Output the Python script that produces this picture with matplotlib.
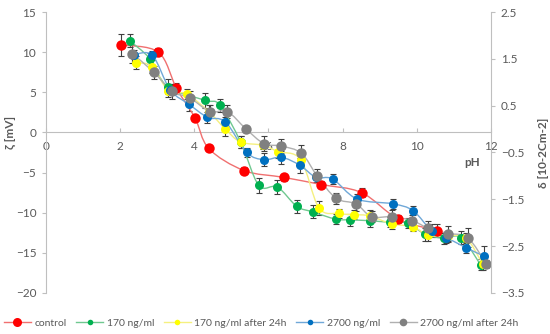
import numpy as np
import matplotlib
matplotlib.use("Agg")
import matplotlib.pyplot as plt
from matplotlib.path import Path
from matplotlib.patches import PathPatch
from matplotlib.lines import Line2D

plt.rcParams['font.family'] = ['Lato', 'DejaVu Sans']

# --- data ---
ph_control = [2.01, 3.03, 3.52, 4.02, 4.39, 5.34, 6.41, 7.43, 8.51, 9.5, 10.55]
z_control = [10.9, 10.0, 5.5, 1.8, -2.0, -4.75, -5.6, -6.5, -7.5, -10.8, -12.25]
e_control = [1.4, 0.5, 0.7, 0.3, 0.3, 0.4, 0.4, 0.4, 0.6, 0.5, 0.8]

ph_170 = [2.26, 2.8, 3.28, 4.29, 4.69, 5.25, 5.74, 6.24, 6.76, 7.19, 7.81, 8.21,
          8.73, 9.27, 9.75, 10.23, 10.74, 11.2, 11.72]
z_170 = [11.4, 9.2, 5.7, 4.0, 3.4, -1.2, -6.6, -6.8, -9.2, -9.9, -10.8, -10.9,
         -11.0, -11.2, -11.3, -12.7, -13.2, -13.1, -16.5]
e_170 = [0.8, 0.7, 0.9, 0.9, 0.8, 0.8, 0.9, 0.9, 0.8, 0.8, 0.6, 0.7, 0.8, 0.6,
         0.6, 0.8, 0.7, 0.8, 0.7]

ph_170_24 = [2.42, 2.87, 3.3, 3.79, 4.39, 4.84, 5.25, 5.86, 6.26, 6.87, 7.36, 7.9,
             8.3, 8.73, 9.32, 9.9, 10.3, 10.84, 11.32, 11.78]
z_170_24 = [8.7, 8.2, 5.2, 4.8, 2.6, 0.4, -1.2, -1.6, -2.4, -3.4, -9.4, -10.1,
            -10.25, -10.4, -11.4, -11.75, -12.8, -12.9, -13.1, -16.4]
e_170_24 = [0.8, 0.8, 0.8, 0.6, 0.8, 0.9, 0.8, 0.5, 0.8, 0.8, 0.9, 0.6, 0.6, 0.7,
            0.6, 0.5, 0.7, 0.6, 0.6, 0.7]

ph_2700 = [2.38, 2.87, 3.35, 3.86, 4.35, 4.84, 5.41, 5.88, 6.35, 6.85, 7.28, 7.73,
           8.39, 9.36, 9.9, 10.4, 10.8, 11.34, 11.81]
z_2700 = [9.7, 9.6, 5.3, 3.5, 1.9, 1.3, -2.5, -3.4, -3.1, -4.1, -5.6, -5.8,
          -8.3, -8.9, -9.75, -12.25, -13.1, -14.4, -15.4]
e_2700 = [0.6, 0.6, 0.7, 0.8, 0.7, 0.6, 0.6, 0.8, 0.8, 0.9, 0.6, 0.6, 0.6, 0.6,
          0.6, 0.8, 0.7, 0.6, 1.2]

ph_2700_24 = [2.33, 2.91, 3.4, 3.88, 4.42, 4.89, 5.39, 5.88, 6.35, 6.89, 7.31, 7.82,
              8.36, 8.78, 9.34, 9.88, 10.3, 10.84, 11.37, 11.88]
z_2700_24 = [9.8, 7.5, 5.1, 4.3, 2.6, 2.6, 0.45, -1.4, -1.7, -2.6, -5.4, -8.2,
             -8.9, -10.5, -10.5, -11.0, -11.9, -12.6, -13.1, -16.4]
e_2700_24 = [1.1, 0.8, 0.9, 0.8, 0.8, 0.8, 0.4, 0.9, 0.9, 1.0, 0.8, 0.7, 0.9, 0.7,
             0.8, 0.7, 0.9, 1.0, 1.2, 0.5]

xticks = [0, 2, 4, 6, 8, 10, 12]
yticks_left = [-20, -15, -10, -5, 0, 5, 10, 15]
yticks_right = [-3.5, -2.5, -1.5, -0.5, 0.5, 1.5, 2.5]

series = [
    ("control", ph_control, z_control, e_control, "#FF0000", "#F07070", 7.5),
    ("170 ng/ml", ph_170, z_170, e_170, "#00B050", "#70C890", 6.5),
    ("170 ng/ml after 24h", ph_170_24, z_170_24, e_170_24, "#FFFF00", "#F5F080", 6.5),
    ("2700 ng/ml", ph_2700, z_2700, e_2700, "#0070C0", "#70A8D8", 6.5),
    ("2700 ng/ml after 24h", ph_2700_24, z_2700_24, e_2700_24, "#808080", "#B0B0B0", 7.5),
]

legend_ms = {"control": 6.5, "170 ng/ml": 4, "170 ng/ml after 24h": 4,
             "2700 ng/ml": 4, "2700 ng/ml after 24h": 5.5}


def smooth_path(x, y):
    # Excel-like smoothed line: Catmull-Rom segments as cubic Bezier
    p = np.column_stack([x, y]).astype(float)
    n = len(p)
    verts = [p[0]]
    codes = [Path.MOVETO]
    for i in range(n - 1):
        p0 = p[i - 1] if i > 0 else p[i]
        p3 = p[i + 2] if i + 2 < n else p[i + 1]
        c1 = p[i] + (p[i + 1] - p0) / 6.0
        c2 = p[i + 1] - (p3 - p[i]) / 6.0
        verts += [c1, c2, p[i + 1]]
        codes += [Path.CURVE4] * 3
    return Path(verts, codes)


fig = plt.figure(figsize=(5.5, 3.34), dpi=100)
ax = fig.add_axes([0.0836, 0.123, 0.809, 0.841])

handles = []
for label, x, y, e, mc, lc, ms in series:
    ax.errorbar(x, y, yerr=e, fmt='none', ecolor='#404040', elinewidth=0.8,
                capsize=2.5, capthick=0.8, zorder=2)
    ax.add_patch(PathPatch(smooth_path(x, y), fill=False, edgecolor=lc,
                           linewidth=1.0, zorder=3))
    ax.plot(x, y, 'o', color=mc, markersize=ms, markeredgewidth=0, zorder=4)
    handles.append(Line2D([], [], color=lc, linewidth=1.0, marker='o',
                          markerfacecolor=mc, markeredgewidth=0,
                          markersize=legend_ms[label]))

gray = '#595959'
axis_col = '#BFBFBF'
ax.set_xlim(0, 12)
ax.set_ylim(-20, 15)
ax.set_xticks(xticks)
ax.set_yticks(yticks_left)
ax.spines['top'].set_visible(False)
ax.spines['right'].set_visible(False)
ax.spines['bottom'].set_position(('data', 0))
ax.spines['bottom'].set_color(axis_col)
ax.spines['left'].set_color(axis_col)
ax.tick_params(axis='x', direction='in', length=3, color=axis_col,
               labelcolor=gray, labelsize=8.5, pad=6)
ax.tick_params(axis='y', direction='out', length=3, color=axis_col,
               labelcolor=gray, labelsize=8.5, pad=4)

ax.set_ylabel("ζ [mV]", color=gray, fontsize=8.5, fontweight='bold')
ax.yaxis.set_label_coords(-0.065, 0.573)
ax.text(0.957, 0.465, "pH", transform=ax.transAxes, color=gray, fontsize=8.5,
        fontweight='bold', ha='center', va='center')

ax2 = ax.twinx()
ax2.set_ylim(-3.5, 2.5)
ax2.set_yticks(yticks_right)
ax2.spines['top'].set_visible(False)
ax2.spines['left'].set_visible(False)
ax2.spines['bottom'].set_visible(False)
ax2.spines['right'].set_color(axis_col)
ax2.tick_params(axis='y', direction='out', length=3, color=axis_col,
                labelcolor=gray, labelsize=8.5, pad=4)
ax2.set_ylabel("δ [10-2Cm-2]", color=gray, fontsize=8.5, fontweight='bold',
               rotation=90)
ax2.yaxis.set_label_coords(1.105, 0.5)

fig.legend(handles, [s[0] for s in series], loc='lower center',
           bbox_to_anchor=(0.475, -0.01), ncol=5, frameon=False, fontsize=7.5,
           labelcolor=gray, handlelength=2.6, handletextpad=0.35,
           columnspacing=0.9)

plt.savefig("out.png", dpi=100)
